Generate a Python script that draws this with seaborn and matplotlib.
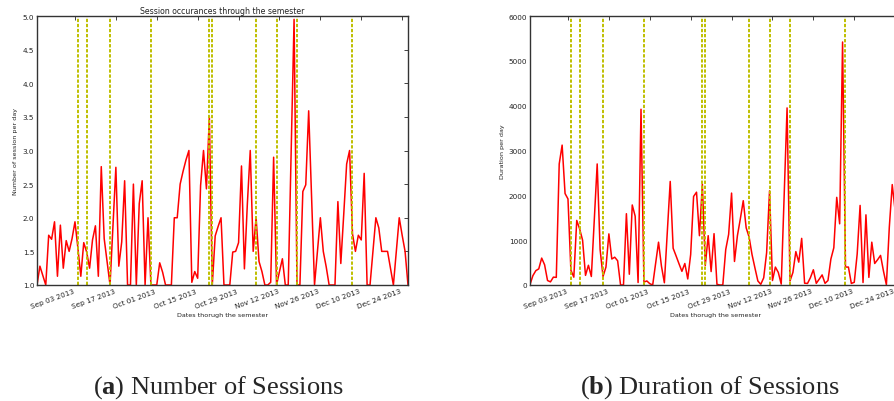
import numpy as np
import pandas as pd
import matplotlib
matplotlib.use("Agg")
import matplotlib.pyplot as plt
import matplotlib.dates as mdates
import seaborn as sns

# Semester window and daily series (None = no record for that day)
start_date = "2013-08-21"
end_date = "2013-12-26"

sessions_per_day = [
    1.0, 1.28, None, 1.0, 1.74, 1.68, 1.94, 1.13, 1.89, 1.25,
    1.66, 1.5, 1.69, 1.94, 1.55, 1.13, 1.63, 1.49, 1.25, 1.67,
    1.88, 1.13, 2.76, 1.69, None, 1.0, None, 2.75, 1.28, 1.64,
    2.55, 1.0, 1.0, 2.5, 1.0, 2.21, 2.55, 1.0, 2.0, 1.0,
    1.0, 1.0, 1.33, 1.19, 1.0, 1.0, 1.0, 2.0, 2.0, 2.5,
    2.69, 2.86, 3.0, 1.04, 1.2, 1.1, 2.48, 3.0, 2.43, 3.5,
    1.0, 1.73, 1.87, 2.0, 1.0, 1.0, 1.0, 1.49, 1.5, 1.63,
    2.77, 1.24, 2.2, 3.0, 1.5, 2.0, 1.35, 1.2, 1.0, 1.0,
    1.04, 2.9, 1.0, 1.2, 1.39, 1.0, 1.0, None, 4.95, 1.0,
    1.0, 2.39, 2.49, 3.59, 2.3, 1.0, 1.5, 2.0, 1.5, 1.27,
    1.0, 1.0, 1.0, 2.24, 1.32, 2.05, 2.8, 3.0, 1.76, 1.5,
    1.74, 1.67, 2.66, 1.0, 1.0, 1.5, 2.0, 1.85, 1.5, 1.5,
    1.5, 1.25, 1.0, 1.5, 2.0, 1.74, 1.5, 1.0,
]

duration_per_day = [
    10, 210, 320, 360, 600, 450, 100, 70, 175, 170,
    2700, 3120, 2040, 1920, 330, 175, 1440, 1250, 1000, 215,
    440, 190, None, 2700, 790, 190, 400, 1140, 580, 620,
    540, 0, 0, 1590, 240, 1785, 1535, 55, 3920, 65,
    90, 30, 0, 480, 955, 420, 50, None, 2310, 820,
    650, 475, 305, 480, 135, 680, 1975, 2070, 1100, 2250,
    435, 1100, 300, 1145, 15, 0, 0, 790, 1130, 2050,
    525, 1100, 1475, 1880, 1275, 1070, 680, 380, 90, 15,
    160, 720, 2100, 100, 400, 280, 20, None, 3950, 90,
    280, 745, 510, 1040, 40, 35, 165, 340, 37, 130,
    225, 37, 100, 580, 830, 1955, 1365, 5420, 400, 400,
    35, 60, 690, 1775, 55, 1565, 170, 955, 480, 565,
    660, 310, 5, 1290, 2240, 1650, None, None,
]

# Days with notable events, marked by dashed lines
marker_dates = [
    "2013-09-04", "2013-09-07", "2013-09-15", "2013-09-29", "2013-10-19",
    "2013-10-20", "2013-11-04", "2013-11-11", "2013-11-18", "2013-12-07",
]

tick_start = "2013-09-03"
tick_end = "2013-12-24"

count_ticks = [1.0, 1.5, 2.0, 2.5, 3.0, 3.5, 4.0, 4.5, 5.0]
duration_ticks = [0, 1000, 2000, 3000, 4000, 5000, 6000]

sns.set_style("white")
plt.rcParams["font.family"] = ["DejaVu Sans"]
plt.rcParams["mathtext.fontset"] = "custom"
plt.rcParams["mathtext.rm"] = "Liberation Serif"
plt.rcParams["mathtext.bf"] = "Liberation Serif:bold"

dates = pd.date_range(start_date, periods=len(sessions_per_day), freq="D")
df = pd.DataFrame({
    "date": dates,
    "sessions": pd.Series(sessions_per_day, dtype="float"),
    "duration": pd.Series(duration_per_day, dtype="float"),
})

W, H = 895, 402
fig = plt.figure(figsize=(W / 100, H / 100), dpi=100)
ax1 = fig.add_axes([37 / W, 116 / H, 371 / W, 269 / H])
ax2 = fig.add_axes([530 / W, 116 / H, 371 / W, 269 / H])

xticks = pd.date_range(tick_start, tick_end, freq="14D")
marker_dt = pd.to_datetime(marker_dates)


def draw_panel(ax, column, yticks, ylabel):
    sub = df.dropna(subset=[column])
    sns.lineplot(data=sub, x="date", y=column, color="red", linewidth=1.1,
                 ax=ax, legend=False)
    for d in marker_dt:
        ax.axvline(d, color=(0.75, 0.75, 0.0), linestyle=(0, (1.7, 0.9)),
                   linewidth=1.4)
    ax.set_xlim(pd.Timestamp(start_date), pd.Timestamp(end_date))
    ax.set_ylim(yticks[0], yticks[-1])
    ax.set_yticks(yticks)
    ax.set_xticks(xticks)
    ax.xaxis.set_major_formatter(mdates.DateFormatter("%b %d %Y"))
    ax.tick_params(direction="in", top=True, right=True, length=3, width=0.6,
                   labelsize=5.2, colors="#222222", pad=2)
    plt.setp(ax.get_xticklabels(), rotation=20, ha="right")
    for sp in ax.spines.values():
        sp.set_color("#333333")
        sp.set_linewidth(1.0)
    ax.set_xlabel("Dates thorugh the semester", fontsize=4.6, color="#222222")
    ax.xaxis.set_label_coords(0.5, -0.1)
    ax.set_ylabel(ylabel, fontsize=4.6, color="#222222")


draw_panel(ax1, "sessions", count_ticks, "Number of session per day")
ax1.yaxis.set_major_formatter(matplotlib.ticker.FormatStrFormatter("%.1f"))
ax1.yaxis.set_label_coords(-0.057, 0.5)
ax1.yaxis.label.set_verticalalignment("center")
ax1.set_title("Session occurances through the semester", fontsize=5.6,
              color="#222222", pad=2.5)

draw_panel(ax2, "duration", duration_ticks, "Duration per day")
ax2.yaxis.set_label_coords(-0.073, 0.5)
ax2.yaxis.label.set_verticalalignment("center")

fig.text(218 / W, 1 - 388 / H, r"($\mathbf{a}$) Number of Sessions",
         ha="center", va="center", fontsize=19, family="Liberation Serif")
fig.text(710 / W, 1 - 388 / H, r"($\mathbf{b}$) Duration of Sessions",
         ha="center", va="center", fontsize=19, family="Liberation Serif")

fig.savefig("out.png", dpi=100)
